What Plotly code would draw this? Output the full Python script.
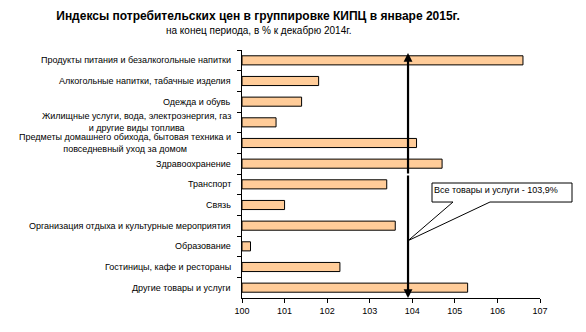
import plotly.graph_objects as go

categories = [
    "Продукты питания и безалкогольные напитки",
    "Алкогольные напитки, табачные изделия",
    "Одежда и обувь",
    "Жилищные услуги, вода, электроэнергия, газ<br>и другие виды топлива",
    "Предметы домашнего обихода, бытовая техника и<br>повседневный уход за домом",
    "Здравоохранение",
    "Транспорт",
    "Связь",
    "Организация отдыха и культурные мероприятия",
    "Образование",
    "Гостиницы, кафе и рестораны",
    "Другие товары и услуги",
]
values = [106.6, 101.8, 101.4, 100.8, 104.1, 104.7, 103.4, 101.0, 103.6, 100.2, 102.3, 105.3]
total = 103.9
base_value = 100
x_ticks = [100, 101, 102, 103, 104, 105, 106, 107]

title_text = "Индексы потребительских цен в группировке КИПЦ в январе 2015г."
subtitle_text = "на конец периода, в % к декабрю 2014г."
callout_text = "Все товары и услуги - " + f"{total:.1f}".replace(".", ",") + "%"

FONT = "Liberation Sans, Arial, sans-serif"

fig = go.Figure()
fig.add_trace(go.Bar(
    y=categories,
    x=[v - base_value for v in values],
    base=base_value,
    orientation="h",
    width=0.44,
    marker=dict(color="#FFCC99", line=dict(color="black", width=1)),
    showlegend=False,
))

annotations = []
for c in categories:
    annotations.append(dict(
        x=0, xref="paper", y=c, yref="y", xanchor="right", yanchor="middle",
        xshift=-9, text=c, showarrow=False, align="center",
        font=dict(family=FONT, size=9, color="black"),
    ))

# total arrows (both directions from the middle)
annotations.append(dict(
    x=total, xref="x", y=0.988, yref="paper", ax=0, ay=122, text="",
    showarrow=True, arrowhead=2, arrowsize=0.8, arrowwidth=2.2, arrowcolor="black",
))
annotations.append(dict(
    x=total, xref="x", y=0.0, yref="paper", ax=0, ay=-124, text="",
    showarrow=True, arrowhead=2, arrowsize=0.8, arrowwidth=2.2, arrowcolor="black",
))

# callout text
annotations.append(dict(
    x=0.8523, xref="paper", y=0.435, yref="paper", xanchor="center", yanchor="middle",
    text=callout_text, showarrow=False,
    font=dict(family=FONT, size=9, color="black"),
))

# subtitle
annotations.append(dict(
    x=0.054, xref="paper", y=1.077, yref="paper", xanchor="center", yanchor="middle",
    text=subtitle_text, showarrow=False,
    font=dict(family=FONT, size=10, color="black"),
))

# callout wedge shape (paper coordinates so it may extend past the plot area)
tip_x = (total - x_ticks[0]) / (x_ticks[-1] - x_ticks[0])
bx0, bx1, wx0, wx1 = 0.6376, 1.1074, 0.7081, 0.8322
by0, by1, ty = 0.387, 0.4637, 0.231
path = (f"M {bx0},{by1} L {bx1},{by1} L {bx1},{by0} L {wx1},{by0} "
        f"L {tip_x},{ty} L {wx0},{by0} L {bx0},{by0} Z")

fig.update_layout(
    width=586, height=332,
    margin=dict(l=242, r=46, t=50, b=34),
    paper_bgcolor="white", plot_bgcolor="white",
    title=dict(
        text="<b>" + title_text + "</b>",
        x=258 / 586, xanchor="center", xref="container",
        y=1 - 15.5 / 332, yanchor="middle",
        font=dict(family=FONT, size=12, color="black"),
    ),
    xaxis=dict(
        range=[100, 107], tickvals=x_ticks, ticktext=[str(t) for t in x_ticks],
        showgrid=False, zeroline=False, showline=True, linecolor="black", linewidth=1,
        ticks="outside", ticklen=4, tickcolor="black",
        tickfont=dict(family=FONT, size=9, color="black"),
    ),
    yaxis=dict(
        type="category", categoryorder="array", categoryarray=categories,
        autorange="reversed", showticklabels=False, showgrid=False, zeroline=False,
        showline=True, linecolor="black", linewidth=1,
        ticks="outside", ticklen=4, tickcolor="black", tickson="boundaries",
    ),
    annotations=annotations,
    shapes=[dict(type="path", xref="paper", yref="paper", path=path,
                 fillcolor="white", line=dict(color="black", width=1), layer="above")],
    bargap=0.56,
)

fig.write_html("out.html")
